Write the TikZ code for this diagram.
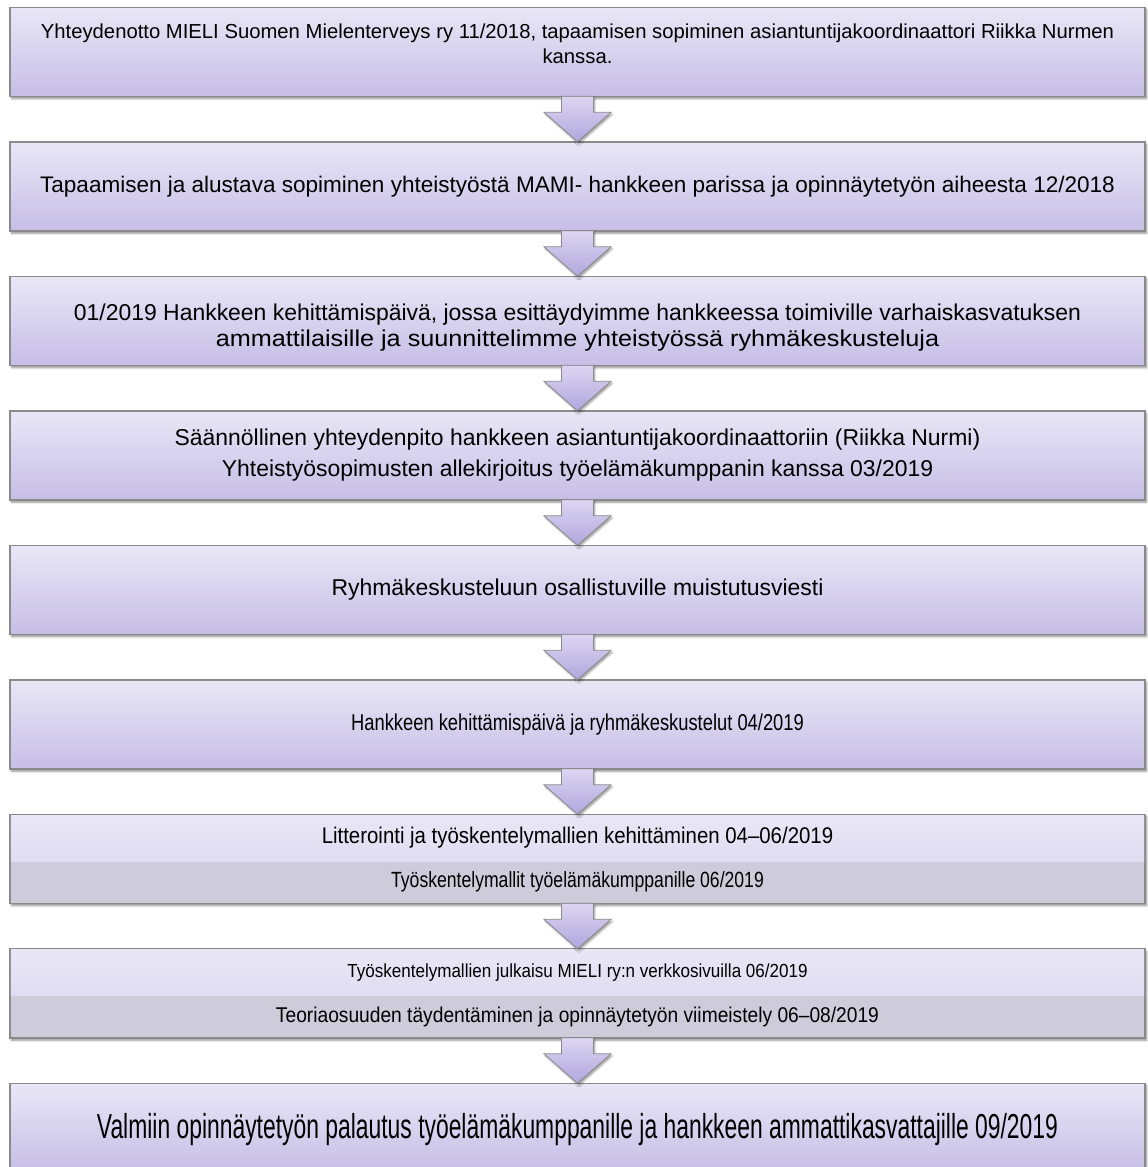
\documentclass[tikz,border=0pt]{standalone}
\usepackage{fontspec}
\setmainfont{Liberation Sans}
\newfontfamily\narrowface{Liberation Sans}[FakeStretch=0.66]
\newfontfamily\slimface{Liberation Sans}[FakeStretch=0.8]
\newfontfamily\trimface{Liberation Sans}[FakeStretch=0.9]
\newfontfamily\wideface{Liberation Sans}[FakeStretch=1.1]
\usetikzlibrary{calc}
\usetikzlibrary{shadows.blur}

\definecolor{boxtop}{RGB}{233,231,246}
\definecolor{boxbot}{RGB}{198,190,230}
\definecolor{rowgray}{RGB}{206,203,218}
\definecolor{edgegray}{RGB}{138,138,138}
\definecolor{arrowtop}{RGB}{220,214,242}
\definecolor{arrowbot}{RGB}{176,166,222}

\tikzset{
	boxframe/.style={draw=edgegray, line width=1.1pt, outer sep=0pt, minimum width=851.25pt, minimum height=66.75pt, inner sep=0pt,
		blur shadow={shadow xshift=1.2pt, shadow yshift=-1.8pt, shadow blur radius=1.6pt, shadow opacity=45}},
	stepbox/.style={boxframe, top color=boxtop, bottom color=boxbot},
	splitbox/.style={boxframe, fill=rowgray},
	steptext/.style={align=center, inner sep=0pt, text=black},
	downarrow/.style={draw=edgegray, line width=0.6pt, top color=arrowtop, bottom color=arrowbot,
		blur shadow={shadow xshift=1pt, shadow yshift=-1.5pt, shadow blur radius=1.4pt, shadow opacity=40},
		to path={($(\tikztostart)+(-16,0)$) -- ($(\tikztostart)+(16,0)$) -- ($(\tikztostart)+(16,16)$) -- ($(\tikztostart)+(33.5,16)$) -- (\tikztotarget) -- ($(\tikztostart)+(-33.5,16)$) -- ($(\tikztostart)+(-16,16)$) -- cycle}}
}

\begin{document}
\begin{tikzpicture}[x=0.75pt,y=0.75pt,yscale=-1,xscale=1]
	\useasboundingbox (0,0) rectangle (1147,1167);

	%Shape: boxes
	\node[stepbox] (b1) at (577.5,51.8) {};
	\node[stepbox] (b2) at (577.5,186.3) {};
	\node[stepbox] (b3) at (577.5,320.8) {};
	\node[stepbox] (b4) at (577.5,455.3) {};
	\node[stepbox] (b5) at (577.5,589.8) {};
	\node[stepbox] (b6) at (577.5,724.3) {};
	\node[splitbox] (b7) at (577.5,858.8) {};
	\node[splitbox] (b8) at (577.5,993.3) {};
	\node[stepbox] (b9) at (577.5,1127.8) {};
	%upper rows of the split boxes
	\shade[top color=boxtop, bottom color=boxtop!75!boxbot] ($(b7.north west)+(0.8,0.8)$) rectangle ($(b7.north east)+(-0.8,47)$);
	\shade[top color=boxtop, bottom color=boxtop!75!boxbot] ($(b8.north west)+(0.8,0.8)$) rectangle ($(b8.north east)+(-0.8,47)$);

	%Shape: arrows
	\draw[downarrow] (b1.south) to (b2.north);
	\draw[downarrow] (b2.south) to (b3.north);
	\draw[downarrow] (b3.south) to (b4.north);
	\draw[downarrow] (b4.south) to (b5.north);
	\draw[downarrow] (b5.south) to (b6.north);
	\draw[downarrow] (b6.south) to (b7.north);
	\draw[downarrow] (b7.south) to (b8.north);
	\draw[downarrow] (b8.south) to (b9.north);

	% Text Node
	\node[steptext, font=\fontsize{15.2}{19}\selectfont] (t1) at ($(b1.center)+(0,-8)$) {Yhteydenotto MIELI Suomen Mielenterveys ry 11/2018, tapaamisen sopiminen asiantuntijakoordinaattori Riikka Nurmen\\kanssa.};
	% Text Node
	\node[steptext, font=\fontsize{16.9}{20}\selectfont] (t2) at (b2.center) {Tapaamisen ja alustava sopiminen yhteistyöstä MAMI- hankkeen parissa ja opinnäytetyön aiheesta 12/2018};
	% Text Node
	\node[steptext, font=\fontsize{17.2}{19.5}\selectfont] (t3) at ($(b3.center)+(0,7)$) {01/2019 Hankkeen kehittämispäivä, jossa esittäydyimme hankkeessa toimiville varhaiskasvatuksen\\{\wideface ammattilaisille ja suunnittelimme yhteistyössä ryhmäkeskusteluja}};
	% Text Node
	\node[steptext, font=\fontsize{17.2}{23}\selectfont] (t4) at (b4.center) {Säännöllinen yhteydenpito hankkeen asiantuntijakoordinaattoriin (Riikka Nurmi)\\Yhteistyösopimusten allekirjoitus työelämäkumppanin kanssa 03/2019};
	% Text Node
	\node[steptext, font=\fontsize{17.2}{20}\selectfont] (t5) at (b5.center) {Ryhmäkeskusteluun osallistuville muistutusviesti};
	% Text Node
	\node[steptext, font=\slimface\fontsize{17.2}{20}\selectfont] (t6) at (b6.center) {Hankkeen kehittämispäivä ja ryhmäkeskustelut 04/2019};
	% Text Node
	\node[steptext, font=\trimface\fontsize{17}{20}\selectfont] (t7a) at ($(b7.north)+(0,23.5)$) {Litterointi ja työskentelymallien kehittäminen 04–06/2019};
	\node[steptext, font=\slimface\fontsize{16.5}{20}\selectfont] (t7b) at ($(b7.south)+(0,-21)$) {Työskentelymallit työelämäkumppanille 06/2019};
	% Text Node
	\node[steptext, font=\trimface\fontsize{14.2}{18}\selectfont] (t8a) at ($(b8.north)+(0,23.5)$) {Työskentelymallien julkaisu MIELI ry:n verkkosivuilla 06/2019};
	\node[steptext, font=\trimface\fontsize{16}{18}\selectfont] (t8b) at ($(b8.south)+(0,-21)$) {Teoriaosuuden täydentäminen ja opinnäytetyön viimeistely 06–08/2019};
	% Text Node
	\node[steptext, font=\narrowface\fontsize{26}{30}\selectfont] (t9) at ($(b9.center)+(0,2)$) {Valmiin opinnäytetyön palautus työelämäkumppanille ja hankkeen ammattikasvattajille 09/2019};

\end{tikzpicture}
\end{document}
